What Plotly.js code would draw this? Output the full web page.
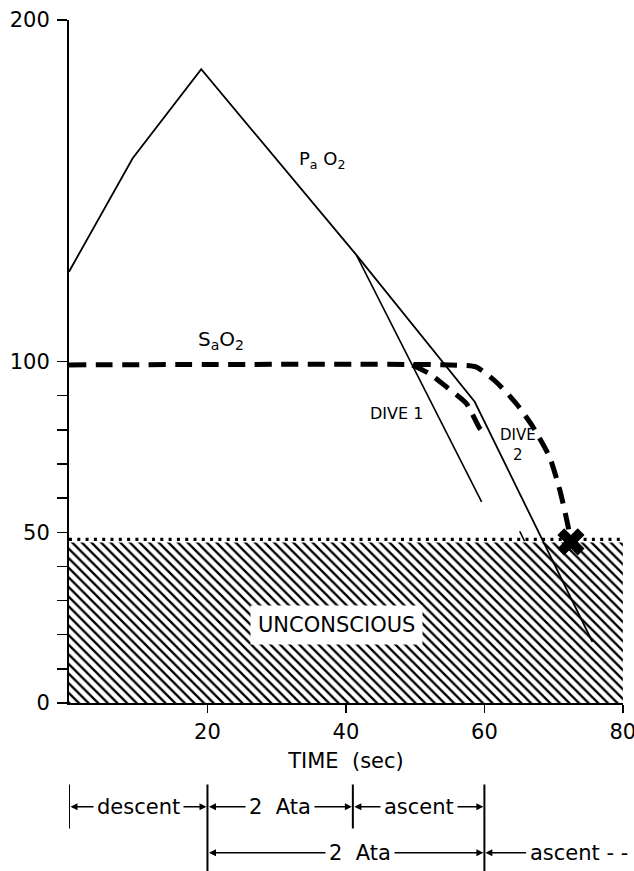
<!DOCTYPE html>
<html><head><meta charset="utf-8">
<script src="https://cdn.plot.ly/plotly-3.0.1.min.js"></script>
<style>html,body{margin:0;padding:0;background:#fff}#chart{width:634px;height:871px}</style>
</head><body><div id="chart"></div>
<script>
// ---- data ----
const pao2Time   = [0, 9.2, 19.1, 41.5, 58.6, 75.6];
const pao2Value  = [126.3, 159.5, 185.6, 131.2, 88.2, 17.9];
const dive1PaTime  = [41.5, 59.6];
const dive1PaValue = [131.2, 58.9];
const sao2Time   = [0, 55, 58.8, 61.7, 64.6, 67, 69.4, 70.9, 72.0, 72.5];
const sao2Value  = [99, 99, 98.4, 94, 87.7, 80.9, 72.1, 62.3, 52.6, 47.2];
const dive1SaTime  = [49.6, 52, 54.5, 57.4, 59.3, 60];
const dive1SaValue = [99, 96.5, 92.6, 87.7, 80.5, 78.9];
const strayMarkTime  = [65.1, 65.8];
const strayMarkValue = [50.3, 47.4];
const collapseTime  = [72.5];
const collapseValue = [47.2];
const unconsciousTime  = [0, 80, 80, 0];
const unconsciousValue = [0, 0, 47, 47];
const thresholdTime  = [0, 80];
const thresholdValue = [47.9, 47.9];
const yTickVals = [0, 10, 20, 30, 40, 50, 60, 70, 80, 90, 100, 200];
const yTickText = ['0', '', '', '', '', '50', '', '', '', '', '100', '200'];
const xTickVals = [20, 40, 60, 80];
const row1Bounds = [0, 20, 41, 60];
const row1Labels = ['descent', '2  Ata', 'ascent'];
const row2Bounds = [20, 60];
const row2Labels = ['2  Ata'];
const row2AscentStart = 60;
const row2AscentLabelTime = 66.1;
const row2AscentLabel = 'ascent - - (';

// ---- layout helpers (pixel geometry) ----
const W = 634, H = 871;
const M = {l: 69, r: 11, t: 20, b: 168};
const plotH = H - M.t - M.b;
const py = p => (H - M.b - p) / plotH; // pixel y -> paper y
const FONT = 'DejaVu Sans';

const traces = [
  {x: unconsciousTime, y: unconsciousValue, type: 'scatter', mode: 'lines', fill: 'toself',
   line: {width: 0}, fillcolor: 'white',
   fillpattern: {shape: '\\', size: 6.8, solidity: 0.34, fgcolor: 'black', bgcolor: 'white', fgopacity: 1},
   hoverinfo: 'skip', showlegend: false},
  {x: thresholdTime, y: thresholdValue, type: 'scatter', mode: 'lines',
   line: {color: 'black', width: 3.2, dash: '3px,5.3px'}, showlegend: false},
  {x: pao2Time, y: pao2Value, type: 'scatter', mode: 'lines',
   line: {color: 'black', width: 1.8}, showlegend: false},
  {x: dive1PaTime, y: dive1PaValue, type: 'scatter', mode: 'lines',
   line: {color: 'black', width: 1.6}, showlegend: false},
  {x: strayMarkTime, y: strayMarkValue, type: 'scatter', mode: 'lines',
   line: {color: 'black', width: 1.6}, showlegend: false},
  {x: sao2Time, y: sao2Value, type: 'scatter', mode: 'lines',
   line: {color: 'black', width: 5, dash: '17px,9.5px', shape: 'spline', smoothing: 0.6}, showlegend: false},
  {x: dive1SaTime, y: dive1SaValue, type: 'scatter', mode: 'lines',
   line: {color: 'black', width: 5, dash: '17px,9.5px', shape: 'spline', smoothing: 0.6}, showlegend: false},
  {x: collapseTime, y: collapseValue, type: 'scatter', mode: 'markers',
   marker: {symbol: 'x', size: 24, color: 'black', line: {width: 0}}, showlegend: false}
];

const annotations = [
  {x: 36.5, y: 159, xref: 'x', yref: 'y', text: 'P<sub>a</sub> O<sub>2</sub>', showarrow: false,
   font: {family: FONT, size: 18, color: 'black'}},
  {x: 22.0, y: 106.3, xref: 'x', yref: 'y', text: 'S<sub>a</sub>O<sub>2</sub>', showarrow: false,
   font: {family: FONT, size: 20, color: 'black'}},
  {x: 47.3, y: 84.9, xref: 'x', yref: 'y', text: 'DIVE 1', showarrow: false,
   font: {family: FONT, size: 16, color: 'black'}},
  {x: 64.8, y: 75.5, xref: 'x', yref: 'y', text: 'DIVE<br>2', showarrow: false,
   font: {family: FONT, size: 15, color: 'black'}},
  {x: 38.7, y: 22.8, xref: 'x', yref: 'y', text: 'UNCONSCIOUS', showarrow: false,
   bgcolor: 'white', borderpad: 7,
   font: {family: FONT, size: 21, color: 'black'}}
];

const shapes = [];
const row1Y = py(806.7), row2Y = py(852.7);
const arrowAnn = (from, to, yy) => ({
  x: to, y: yy, xref: 'x', yref: 'paper', ax: from, axref: 'x', ay: 0, ayref: 'pixel',
  text: ' ', font: {size: 1}, borderpad: 0, showarrow: true,
  arrowhead: 2, startarrowhead: 2, arrowside: 'end+start', arrowsize: 1, startarrowsize: 1,
  arrowwidth: 1.4, arrowcolor: 'black', standoff: 1, startstandoff: 1
});
const labelAnn = (t, yy, txt) => ({
  x: t, y: yy, xref: 'x', yref: 'paper', xanchor: 'center', yanchor: 'middle',
  text: txt, showarrow: false, bgcolor: 'white', borderpad: 3,
  font: {family: FONT, size: 21, color: 'black'}
});
for (let i = 0; i < row1Labels.length; i++) {
  const a = row1Bounds[i], b = row1Bounds[i + 1];
  annotations.push(arrowAnn(a, b, row1Y));
  annotations.push(labelAnn((a + b) / 2, row1Y, row1Labels[i]));
}
annotations.push(arrowAnn(row2Bounds[0], row2Bounds[1], row2Y));
annotations.push(labelAnn((row2Bounds[0] + row2Bounds[1]) / 2 + 2, row2Y, row2Labels[0]));
annotations.push({
  x: row2AscentStart, y: row2Y, xref: 'x', yref: 'paper', ax: row2AscentLabelTime, axref: 'x', ay: 0, ayref: 'pixel',
  text: ' ', font: {size: 1}, borderpad: 0, showarrow: true, arrowhead: 2, arrowsize: 1, arrowwidth: 1.4,
  arrowcolor: 'black', standoff: 1
});
annotations.push({x: row2AscentLabelTime, y: row2Y, xref: 'x', yref: 'paper', xanchor: 'left', yanchor: 'middle',
  text: row2AscentLabel, showarrow: false, bgcolor: 'white', borderpad: 2,
  font: {family: FONT, size: 21, color: 'black'}});

// vertical boundary bars
row1Bounds.forEach(t => {
  const long = row2Bounds.includes(t);
  shapes.push({type: 'line', xref: 'x', yref: 'paper', x0: t, x1: t,
    y0: py(784.5), y1: long ? py(875) : py(828.5), line: {color: 'black', width: 2}});
});

const layout = {
  width: W, height: H,
  margin: M,
  paper_bgcolor: 'white', plot_bgcolor: 'white',
  font: {family: FONT, size: 21, color: 'black'},
  showlegend: false,
  xaxis: {range: [0, 80.02], showgrid: false, zeroline: false, showline: true, linecolor: 'black', linewidth: 2,
    ticks: 'outside', ticklen: 8, tickwidth: 1.5, tickcolor: 'black', tickvals: xTickVals,
    ticklabeloverflow: 'allow',
    ticklabelstandoff: 1, tickfont: {family: FONT, size: 21, color: 'black'},
    title: {text: 'TIME  (sec)', standoff: 10, font: {family: FONT, size: 21, color: 'black'}}},
  yaxis: {range: [0, 200], showgrid: false, zeroline: false, showline: true, linecolor: 'black', linewidth: 2,
    ticks: 'outside', ticklen: 10, tickwidth: 1.5, tickcolor: 'black', tickvals: yTickVals, ticktext: yTickText,
    ticklabelstandoff: 3, tickfont: {family: FONT, size: 21, color: 'black'}},
  shapes: shapes,
  annotations: annotations
};

Plotly.newPlot('chart', traces, layout, {staticPlot: true, displayModeBar: false});
</script>
</body></html>
